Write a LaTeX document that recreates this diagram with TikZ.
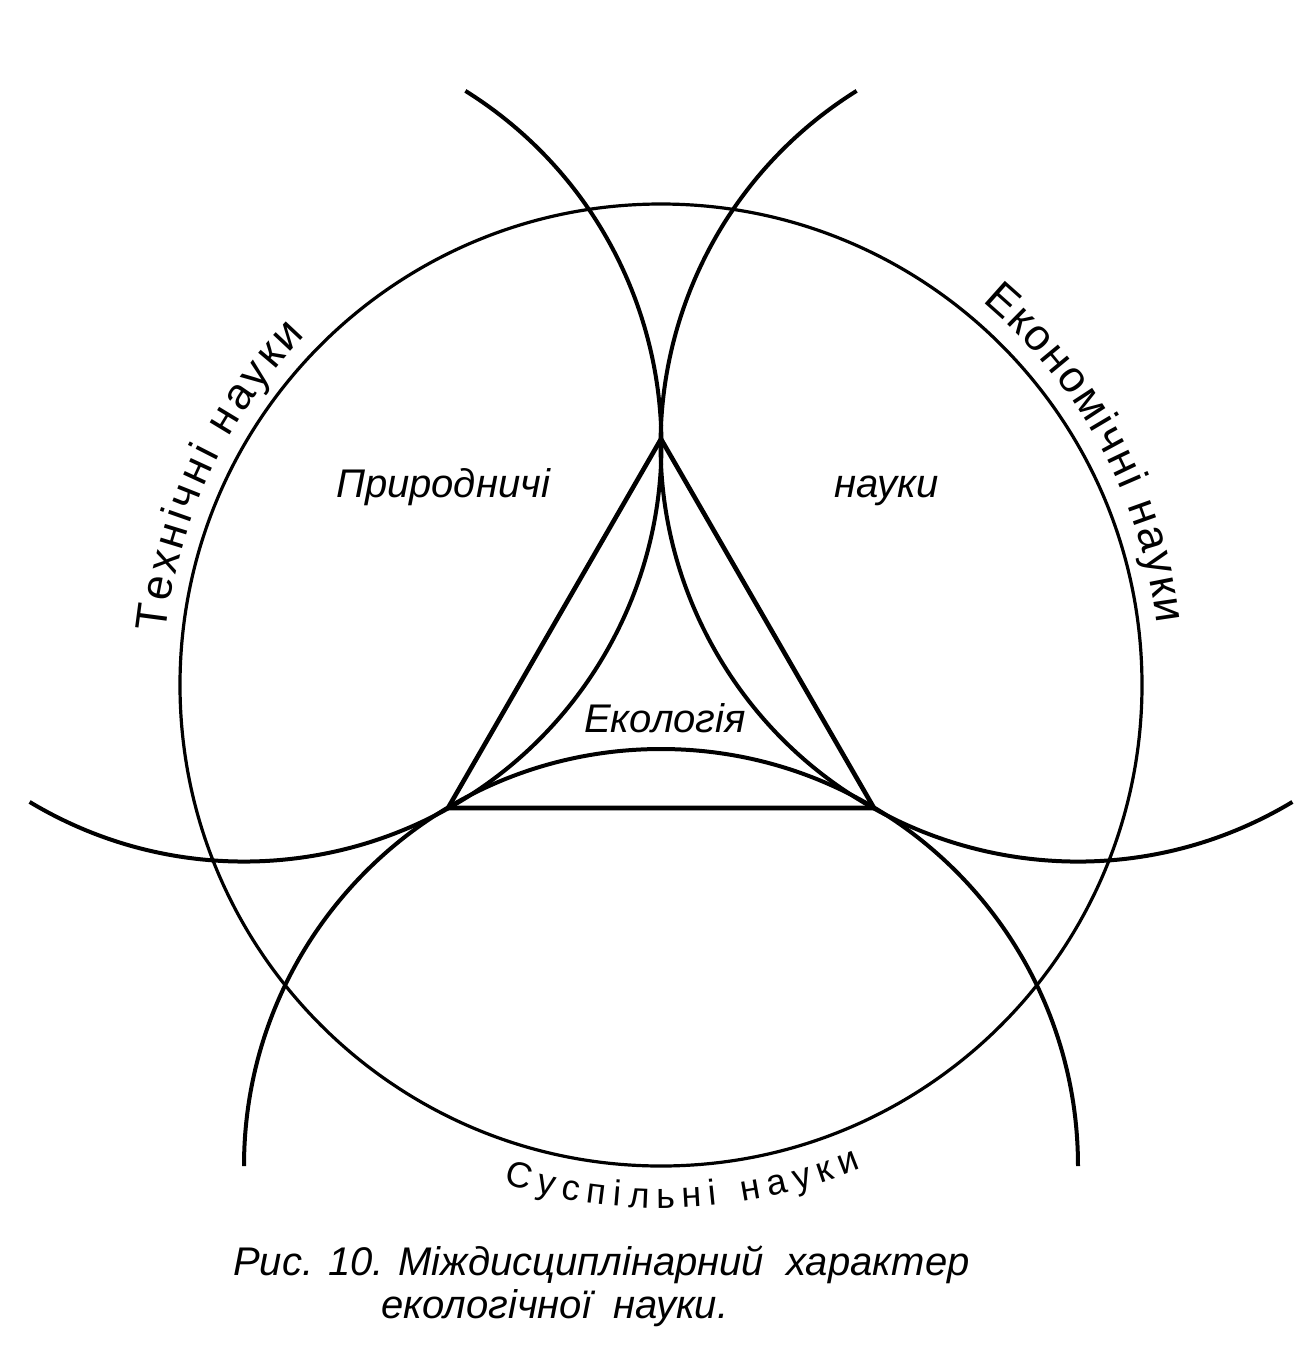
\documentclass[tikz,border=0pt]{standalone}
\usepackage{fontspec}
\setmainfont{Liberation Sans}
\usetikzlibrary{decorations.text}

\begin{document}
\tikzset{every picture/.style={line width=1.5pt}}
\tikzset{
  bigring/.style={line width=1.6pt},
  sidearc/.style={line width=2pt},
  label/.style={font=\itshape\fontsize{20}{24}\selectfont},
  arctext/.style={decorate, decoration={text along path, text align={fit to path}, text={#1}}}
}

\begin{tikzpicture}[x=0.5pt,y=0.5pt,yscale=-1,xscale=1]
\useasboundingbox (0,0) rectangle (1313,1367);

%Shape: Circle (big one, centre of the figure)
\coordinate (o) at (661,685);
\draw [bigring] (o) circle [radius=481];

%Shape: Arc (upper left circle)
\coordinate (cl) at (244.4,444.5);
\draw [sidearc] (cl) ++(-58:417) arc [start angle=-58, end angle=121, radius=417];
%Shape: Arc (upper right circle)
\coordinate (cr) at (1077.6,444.5);
\draw [sidearc] (cr) ++(59:417) arc [start angle=59, end angle=238, radius=417];
%Shape: Arc (lower circle)
\coordinate (cb) at (661,1166);
\draw [sidearc] (cb) ++(180:417) arc [start angle=180, end angle=360, radius=417];

%Shape: Triangle
\coordinate (vt) at (661,439);
\coordinate (vl) at (448,808);
\coordinate (vr) at (874,808);
\draw [line width=2.3pt, line join=round] (vt) -- (vl) -- (vr) -- cycle;

% Text along the big circle
\path [arctext={|\fontsize{22}{26}\selectfont|Технічні науки}] (o) ++(186:498) arc [start angle=186, end angle=224.5, radius=498];
\path [arctext={|\fontsize{22}{26}\selectfont|Економічні науки}] (o) ++(-50:500) arc [start angle=-50, end angle=-7, radius=500];
\path [arctext={|\fontsize{18}{22}\selectfont|Суспільні науки}] (o) ++(107.5:523) arc [start angle=107.5, end angle=67.5, radius=523];

% Text Node
\draw (443,497) node (prirod) [label, anchor=base] {Природничі};
% Text Node
\draw (887,497) node (nauky) [label, anchor=base] {науки};
% Text Node
\draw (665,732) node (ekol) [label, anchor=base] {Екологія};
% Text Node
\draw (225,1275) node (cap1) [label, anchor=base west] {Рис. 10. Міждисциплінарний\ \ характер};
% Text Node
\draw (373,1318) node (cap2) [label, anchor=base west] {екологічної \ науки.};

\end{tikzpicture}
\end{document}
